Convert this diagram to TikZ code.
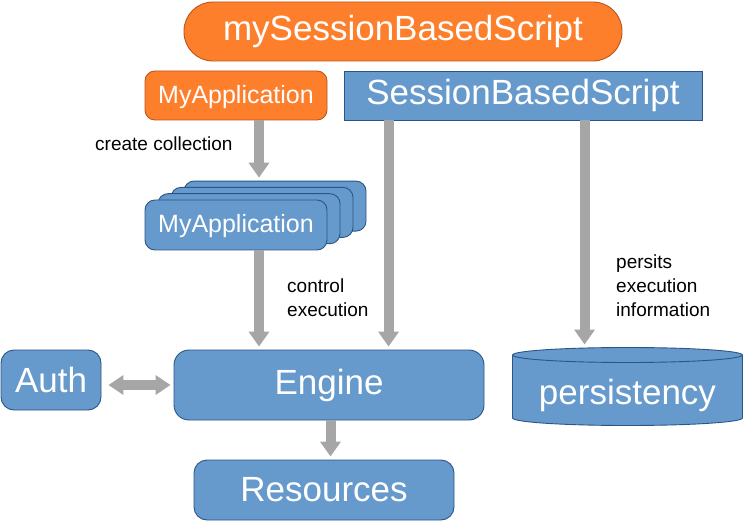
\documentclass[tikz,border=0pt]{standalone}
\usepackage{fontspec}
\setmainfont{Liberation Sans}
\usetikzlibrary{arrows.meta}
\definecolor{bfill}{HTML}{6699CC}
\definecolor{bline}{HTML}{2B5585}
\definecolor{ofill}{HTML}{FD7F2C}
\definecolor{oline}{HTML}{B9561B}
\definecolor{garr}{HTML}{A6A6A6}
\begin{document}
\begin{tikzpicture}[x=1pt,y=-1pt,
  box/.style={draw=bline, fill=bfill, line width=0.9pt, text=white, inner sep=0pt, rounded corners=12pt},
  obox/.style={box, draw=oline, fill=ofill},
  big/.style={font=\fontsize{35}{40}\selectfont},
  mid/.style={font=\fontsize{25}{30}\selectfont, text height=18pt, text depth=2.5pt},
  lbl/.style={font=\fontsize{19}{24}\selectfont, align=left, inner sep=0pt, anchor=west},
  garrow/.style={draw=garr, line width=10pt, -{Triangle[length=15pt,width=20pt]}, shorten >=3pt},
  dgarrow/.style={draw=garr, line width=10pt, {Triangle[length=15pt,width=19pt]}-{Triangle[length=15pt,width=19pt]}},
]
\useasboundingbox (0,0) rectangle (744,521);

% top
\node[obox, big, rounded corners=29pt, minimum width=438pt, minimum height=59pt] (mysbs) at (403,31.5) {mySessionBasedScript};
\node[obox, mid, rounded corners=10pt, minimum width=182pt, minimum height=49pt] (myapp) at (236,95.5) {MyApplication};
\node[box, big, rounded corners=0pt, minimum width=358pt, minimum height=49pt] (sbs) at (523,95.5) {SessionBasedScript};

% stack of applications
\node[box, rounded corners=10pt, minimum width=182pt, minimum height=50pt] (stack3) at (275,206.1) {};
\node[box, rounded corners=10pt, minimum width=182pt, minimum height=50pt] (stack2) at (262,212.4) {};
\node[box, rounded corners=10pt, minimum width=182pt, minimum height=50pt] (stack1) at (249,218.7) {};
\node[box, mid, rounded corners=10pt, minimum width=182pt, minimum height=50pt] (myapp2) at (236,225) {MyApplication};

% bottom row
\node[box, big, rounded corners=15pt, minimum width=310pt, minimum height=70pt] (engine) at (329,385) {Engine};
\node[box, big, rounded corners=13pt, minimum width=100pt, minimum height=60pt] (auth) at (51,380) {Auth};
\node[box, big, rounded corners=13pt, minimum width=260pt, minimum height=60pt] (res) at (324,490) {Resources};

% persistency cylinder
\fill[bfill] (512.5,355) -- (512.5,418) arc[start angle=180, end angle=360, x radius=115pt, y radius=7.5pt] -- (742.5,355) -- cycle;
\draw[bline, line width=0.9pt] (512.5,355) -- (512.5,418) arc[start angle=180, end angle=360, x radius=115pt, y radius=7.5pt] -- (742.5,355);
\draw[bline, fill=bfill, line width=0.9pt] (627.5,355) ellipse[x radius=115pt, y radius=7.5pt];
\coordinate (ptop) at (627.5,347.5);
\node[big, text=white, inner sep=0pt] (pers) at (627.5,395.5) {persistency};

% connectors
\draw[garrow] ([xshift=23pt]myapp.south) -- ([xshift=23pt]myapp.south |- stack3.north);
\draw[garrow] ([xshift=23pt]myapp2.south) -- ([xshift=23pt]myapp2.south |- engine.north);
\draw[garrow] ([xshift=45pt]sbs.south west) -- ([xshift=45pt]sbs.south west |- engine.north);
\draw[garrow] ([xshift=241pt]sbs.south west) -- ([xshift=241pt]sbs.south west |- ptop);
\draw[garrow] ([xshift=1.5pt]engine.south) -- ([xshift=1.5pt]engine.south |- res.north);
\draw[dgarrow] ([xshift=7pt]engine.west -| auth.east) -- ([xshift=-3pt]engine.west);

% labels
\node[lbl] (l1) at (95,144) {create collection};
\node[lbl] (l2) at (287,298) {control\\execution};
\node[lbl] (l3) at (616,286) {persits\\execution\\information};
\end{tikzpicture}
\end{document}
